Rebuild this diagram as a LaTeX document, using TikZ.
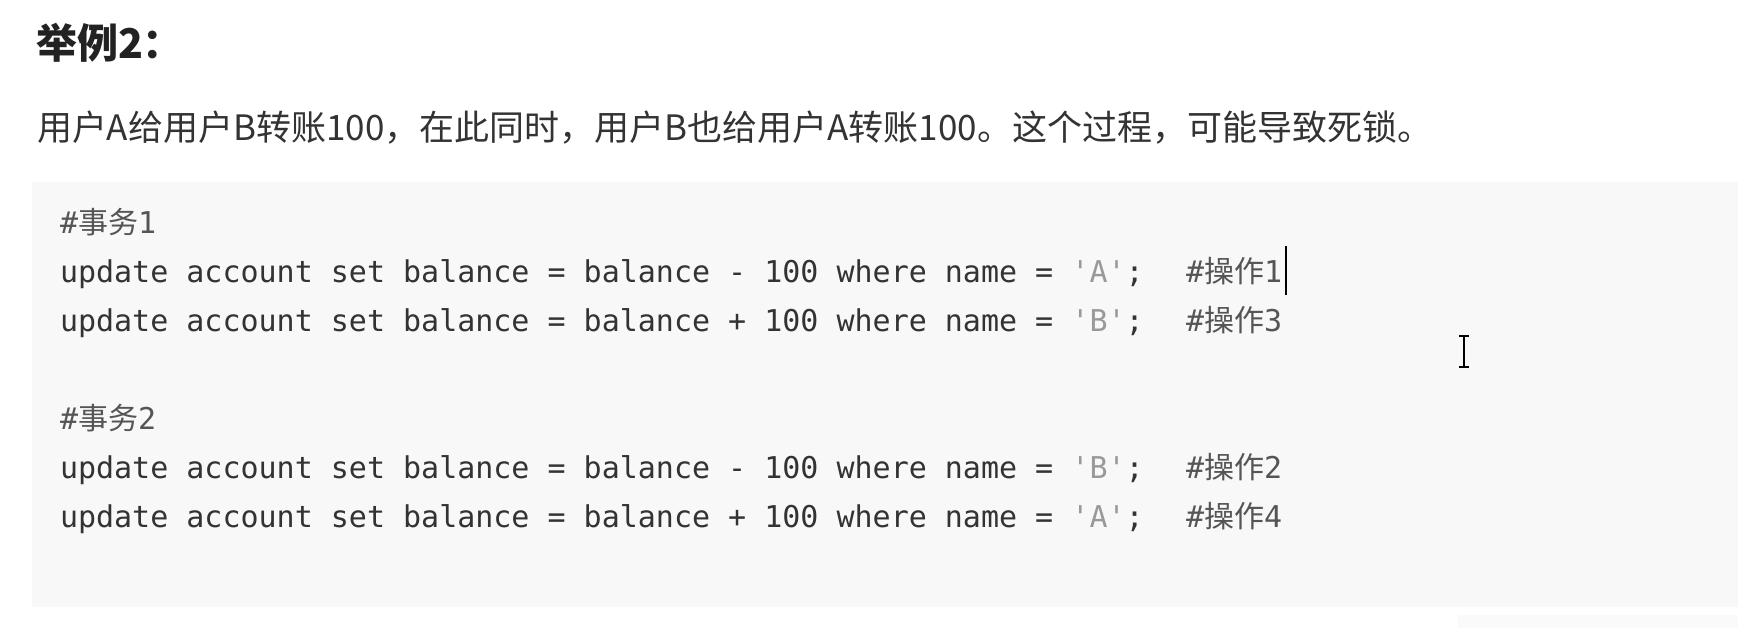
\documentclass[tikz,border=0pt]{standalone}
\usepackage{fontspec}
\setmonofont{DejaVu Sans Mono}
\newfontfamily\cjk{Noto Sans CJK SC}
\definecolor{titlecol}{HTML}{222222}
\definecolor{textcol}{HTML}{333333}
\definecolor{codecol}{HTML}{333333}
\definecolor{strcol}{HTML}{999999}
\definecolor{cmtcol}{HTML}{555555}
\definecolor{blockbg}{HTML}{F8F8F8}
\definecolor{faintbg}{HTML}{FAFAFA}
\newcommand\sqstr[1]{\textcolor{strcol}{'#1'}}
\begin{document}
\begin{tikzpicture}[x=1pt,y=1pt,
  txt/.style={anchor=base west, inner sep=0pt, outer sep=0pt},
  titletxt/.style={txt, text=titlecol, font=\cjk\bfseries\fontsize{41}{48}\selectfont},
  bodytxt/.style={txt, text=textcol, font=\cjk\fontsize{35}{42}\selectfont},
  codetxt/.style={txt, text=codecol, font=\ttfamily\fontsize{30}{36}\selectfont},
  cmttxt/.style={txt, text=cmtcol, font=\ttfamily\fontsize{30}{36}\selectfont},
  cursorline/.style={line width=1.4pt, black}]
\useasboundingbox (0,0) rectangle (1738,628);
\fill[white] (0,0) rectangle (1738,628);
% code block background
\fill[faintbg] (1458,0) rectangle (1738,13);
\fill[blockbg] (32,21) rectangle (1738,446);
% title and sentence
\node[titletxt] (title) at (36,569) {举例2：};
\node[bodytxt] (sentence) at (37,487) {用户A给用户B转账100，在此同时，用户B也给用户A转账100。这个过程，可能导致死锁。};
% transaction 1
\node[cmttxt] (t1) at (60,394) {\#{\cjk 事务}1};
\node[codetxt] (l1) at (60,345) {update account set balance = balance - 100 where name = \sqstr{A};};
\node[cmttxt] (c1) at (1186,345) {\#{\cjk 操作}1};
\node[codetxt] (l2) at (60,296) {update account set balance = balance + 100 where name = \sqstr{B};};
\node[cmttxt] (c3) at (1186,296) {\#{\cjk 操作}3};
% transaction 2
\node[cmttxt] (t2) at (60,198) {\#{\cjk 事务}2};
\node[codetxt] (l3) at (60,149) {update account set balance = balance - 100 where name = \sqstr{B};};
\node[cmttxt] (c2) at (1186,149) {\#{\cjk 操作}2};
\node[codetxt] (l4) at (60,100) {update account set balance = balance + 100 where name = \sqstr{A};};
\node[cmttxt] (c4) at (1186,100) {\#{\cjk 操作}4};
% text cursor after comment 1
\draw[cursorline] ([xshift=4pt]c1.east |- 0,382) -- ([xshift=4pt]c1.east |- 0,333);
% I-beam mouse pointer
\draw[line width=1.8pt] (1464,291) -- (1464,262);
\draw[line width=1.2pt] (1459,292) -- (1469,292);
\draw[line width=1.2pt] (1459,261) -- (1469,261);
\end{tikzpicture}
\end{document}
